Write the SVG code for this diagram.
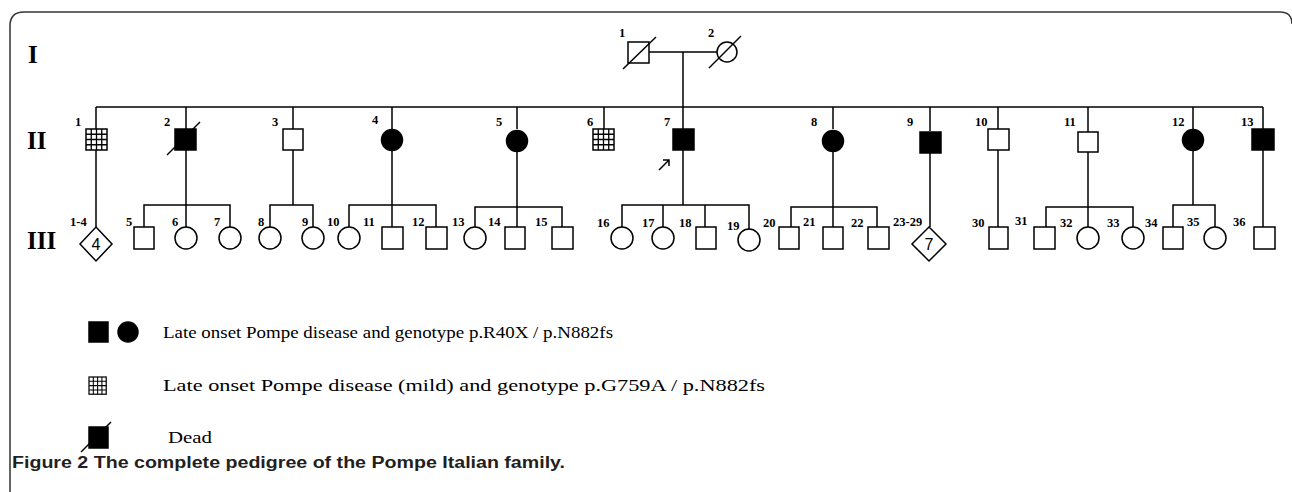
<svg xmlns="http://www.w3.org/2000/svg" xmlns:xlink="http://www.w3.org/1999/xlink" width="1292" height="492" viewBox="0 0 1292 492">
<style>
.ln{stroke:#000;stroke-width:1.5;fill:none}
.op{fill:#fff;stroke:#000;stroke-width:1.5}
.fl{fill:#000;stroke:#000;stroke-width:1.5}
.num{font-family:"Liberation Serif",serif;font-size:12.5px;font-weight:bold;fill:#000}
.gen{font-family:"Liberation Serif",serif;font-size:25px;font-weight:bold;fill:#000}
.leg{font-family:"Liberation Serif",serif;font-size:17px;fill:#000}
.cap{font-family:"Liberation Sans",sans-serif;font-size:16px;font-weight:bold;fill:#231f20}
.dia{font-family:"Liberation Sans",sans-serif;font-size:16px;fill:#000}
</style>
<defs>
<g id="hsq">
<rect x="0" y="0" width="21" height="21" class="op"/>
<path d="M5.25,0V21M10.5,0V21M15.75,0V21M0,5.25H21M0,10.5H21M0,15.75H21" stroke="#000" stroke-width="1.3" fill="none"/>
</g>
</defs>
<rect width="1292" height="492" fill="#fff"/>
<path d="M10,492V26Q10,12 24,12H1280Q1292,12 1292,24" stroke="#333" stroke-width="1.5" fill="none"/>
<text class="gen" x="28" y="63">I</text>
<text class="gen" x="27" y="149">II</text>
<text class="gen" x="27" y="249">III</text>

<g id="connectors" class="ln">
<path d="M649,52H717M683,52V107"/>
<path d="M96,107H1263"/>
<path d="M96,107V129M186,107V129M293,107V129M392,107V129M517,107V129M604,107V129M683,107V129M833,107V129M930,107V131M998,107V129M1088,107V132M1193,107V129M1263,107V129"/>
<path d="M96,150V227"/>
<path d="M186,150V205M144,227V205H230V227M186,205V227"/>
<path d="M293,150V205M270,227V205H313V227"/>
<path d="M392,151V205M349,227V205H436V227M392,205V227"/>
<path d="M517,151V207M475,227V207H562V227M517,207V227"/>
<path d="M683,150V205M622,227V205H749V229M663,205V227M705,205V227"/>
<path d="M833,151V207M791,227V207H877V227M833,207V227"/>
<path d="M930,153V227"/>
<path d="M998,150V227"/>
<path d="M1088,152V207M1046,227V207H1133V227M1088,207V227"/>
<path d="M1193,151V205M1173,227V205H1215V227"/>
<path d="M1263,150V227"/>
</g>

<g id="I-1"><rect x="628" y="42" width="21" height="21" class="op"/><path class="ln" d="M623,69L656,37"/><text class="num" x="619" y="37">1</text></g>
<g id="I-2"><circle cx="727" cy="52" r="10" class="op"/><path class="ln" d="M709,68L741,36"/><text class="num" x="708" y="37">2</text></g>

<g id="II-1"><use xlink:href="#hsq" href="#hsq" x="86" y="129"/><text class="num" x="75" y="126">1</text></g>
<g id="II-2"><rect x="175" y="129" width="21" height="21" class="fl"/><path class="ln" d="M167,155L200,122"/><text class="num" x="164" y="126">2</text></g>
<g id="II-3"><rect x="283" y="129" width="20" height="21" class="op"/><text class="num" x="272" y="126">3</text></g>
<g id="II-4"><circle cx="392" cy="140" r="10.5" class="fl"/><text class="num" x="372" y="124">4</text></g>
<g id="II-5"><circle cx="517" cy="141" r="10.5" class="fl"/><text class="num" x="496" y="126">5</text></g>
<g id="II-6"><use xlink:href="#hsq" href="#hsq" x="593" y="129"/><text class="num" x="587" y="126">6</text></g>
<g id="II-7"><rect x="673" y="129" width="21" height="21" class="fl"/><text class="num" x="664" y="126">7</text>
<path class="ln" d="M659,170L669,160M663,160H669V166" stroke-width="1.3"/></g>
<g id="II-8"><circle cx="833" cy="141" r="10.5" class="fl"/><text class="num" x="811" y="126">8</text></g>
<g id="II-9"><rect x="920" y="132" width="21" height="21" class="fl"/><text class="num" x="907" y="126">9</text></g>
<g id="II-10"><rect x="988" y="129" width="21" height="21" class="op"/><text class="num" x="975" y="126">10</text></g>
<g id="II-11"><rect x="1078" y="132" width="20" height="20" class="op"/><text class="num" x="1064" y="126">11</text></g>
<g id="II-12"><circle cx="1193" cy="140" r="10.5" class="fl"/><text class="num" x="1172" y="126">12</text></g>
<g id="II-13"><rect x="1252" y="129" width="22" height="21" class="fl"/><text class="num" x="1241" y="126">13</text></g>

<g id="III-1-4"><path d="M96,227L112,244L96,261L80,244Z" class="op"/><text class="dia" x="96" y="250" text-anchor="middle">4</text><text class="num" x="70" y="226">1-4</text></g>
<g id="III-5"><rect x="134" y="227" width="20" height="22" class="op"/><text class="num" x="126" y="226">5</text></g>
<g id="III-6"><circle cx="186" cy="238" r="11" class="op"/><text class="num" x="172" y="226">6</text></g>
<g id="III-7"><circle cx="230" cy="238" r="11" class="op"/><text class="num" x="214" y="226">7</text></g>
<g id="III-8"><circle cx="270" cy="238" r="11" class="op"/><text class="num" x="258" y="226">8</text></g>
<g id="III-9"><circle cx="313" cy="238" r="11" class="op"/><text class="num" x="302" y="226">9</text></g>
<g id="III-10"><circle cx="349" cy="238" r="11" class="op"/><text class="num" x="327" y="226">10</text></g>
<g id="III-11"><rect x="382" y="227" width="21" height="22" class="op"/><text class="num" x="363" y="226">11</text></g>
<g id="III-12"><rect x="426" y="227" width="21" height="22" class="op"/><text class="num" x="412" y="226">12</text></g>
<g id="III-13"><circle cx="475" cy="238" r="11" class="op"/><text class="num" x="452" y="226">13</text></g>
<g id="III-14"><rect x="505" y="227" width="20" height="22" class="op"/><text class="num" x="488" y="226">14</text></g>
<g id="III-15"><rect x="552" y="227" width="21" height="22" class="op"/><text class="num" x="535" y="226">15</text></g>
<g id="III-16"><circle cx="622" cy="238" r="11" class="op"/><text class="num" x="597" y="227">16</text></g>
<g id="III-17"><circle cx="663" cy="238" r="11" class="op"/><text class="num" x="642" y="227">17</text></g>
<g id="III-18"><rect x="696" y="227" width="20" height="22" class="op"/><text class="num" x="679" y="227">18</text></g>
<g id="III-19"><circle cx="749" cy="240" r="11" class="op"/><text class="num" x="727" y="230">19</text></g>
<g id="III-20"><rect x="779" y="227" width="20" height="22" class="op"/><text class="num" x="763" y="227">20</text></g>
<g id="III-21"><rect x="823" y="227" width="20" height="22" class="op"/><text class="num" x="803" y="226">21</text></g>
<g id="III-22"><rect x="868" y="227" width="21" height="22" class="op"/><text class="num" x="851" y="227">22</text></g>
<g id="III-23-29"><path d="M929,227L946,244L929,261L912,244Z" class="op"/><text class="dia" x="929" y="250" text-anchor="middle">7</text><text class="num" x="893" y="226">23-29</text></g>
<g id="III-30"><rect x="989" y="227" width="19" height="22" class="op"/><text class="num" x="972" y="227">30</text></g>
<g id="III-31"><rect x="1034" y="227" width="21" height="22" class="op"/><text class="num" x="1015" y="225">31</text></g>
<g id="III-32"><circle cx="1088" cy="238" r="11" class="op"/><text class="num" x="1060" y="227">32</text></g>
<g id="III-33"><circle cx="1133" cy="238" r="11" class="op"/><text class="num" x="1107" y="227">33</text></g>
<g id="III-34"><rect x="1163" y="227" width="20" height="22" class="op"/><text class="num" x="1145" y="227">34</text></g>
<g id="III-35"><circle cx="1215" cy="238" r="11" class="op"/><text class="num" x="1187" y="226">35</text></g>
<g id="III-36"><rect x="1254" y="227" width="21" height="22" class="op"/><text class="num" x="1233" y="226">36</text></g>

<g id="legend">
<rect x="89" y="322" width="19" height="20" class="fl"/>
<circle cx="128" cy="332" r="10" class="fl"/>
<text class="leg" x="163" y="338" textLength="450" lengthAdjust="spacingAndGlyphs">Late onset Pompe disease and genotype p.R40X / p.N882fs</text>
<use xlink:href="#hsq" href="#hsq" transform="translate(89,377) scale(0.82)"/>
<text class="leg" x="163" y="391" textLength="602" lengthAdjust="spacingAndGlyphs">Late onset Pompe disease (mild) and genotype p.G759A / p.N882fs</text>
<rect x="89" y="427" width="19" height="21" class="fl"/>
<path class="ln" d="M81,452L111,422"/>
<text class="leg" x="168" y="443" textLength="44" lengthAdjust="spacingAndGlyphs">Dead</text>
</g>
<text class="cap" x="12" y="468" textLength="553" lengthAdjust="spacingAndGlyphs">Figure 2 The complete pedigree of the Pompe Italian family.</text>
</svg>
